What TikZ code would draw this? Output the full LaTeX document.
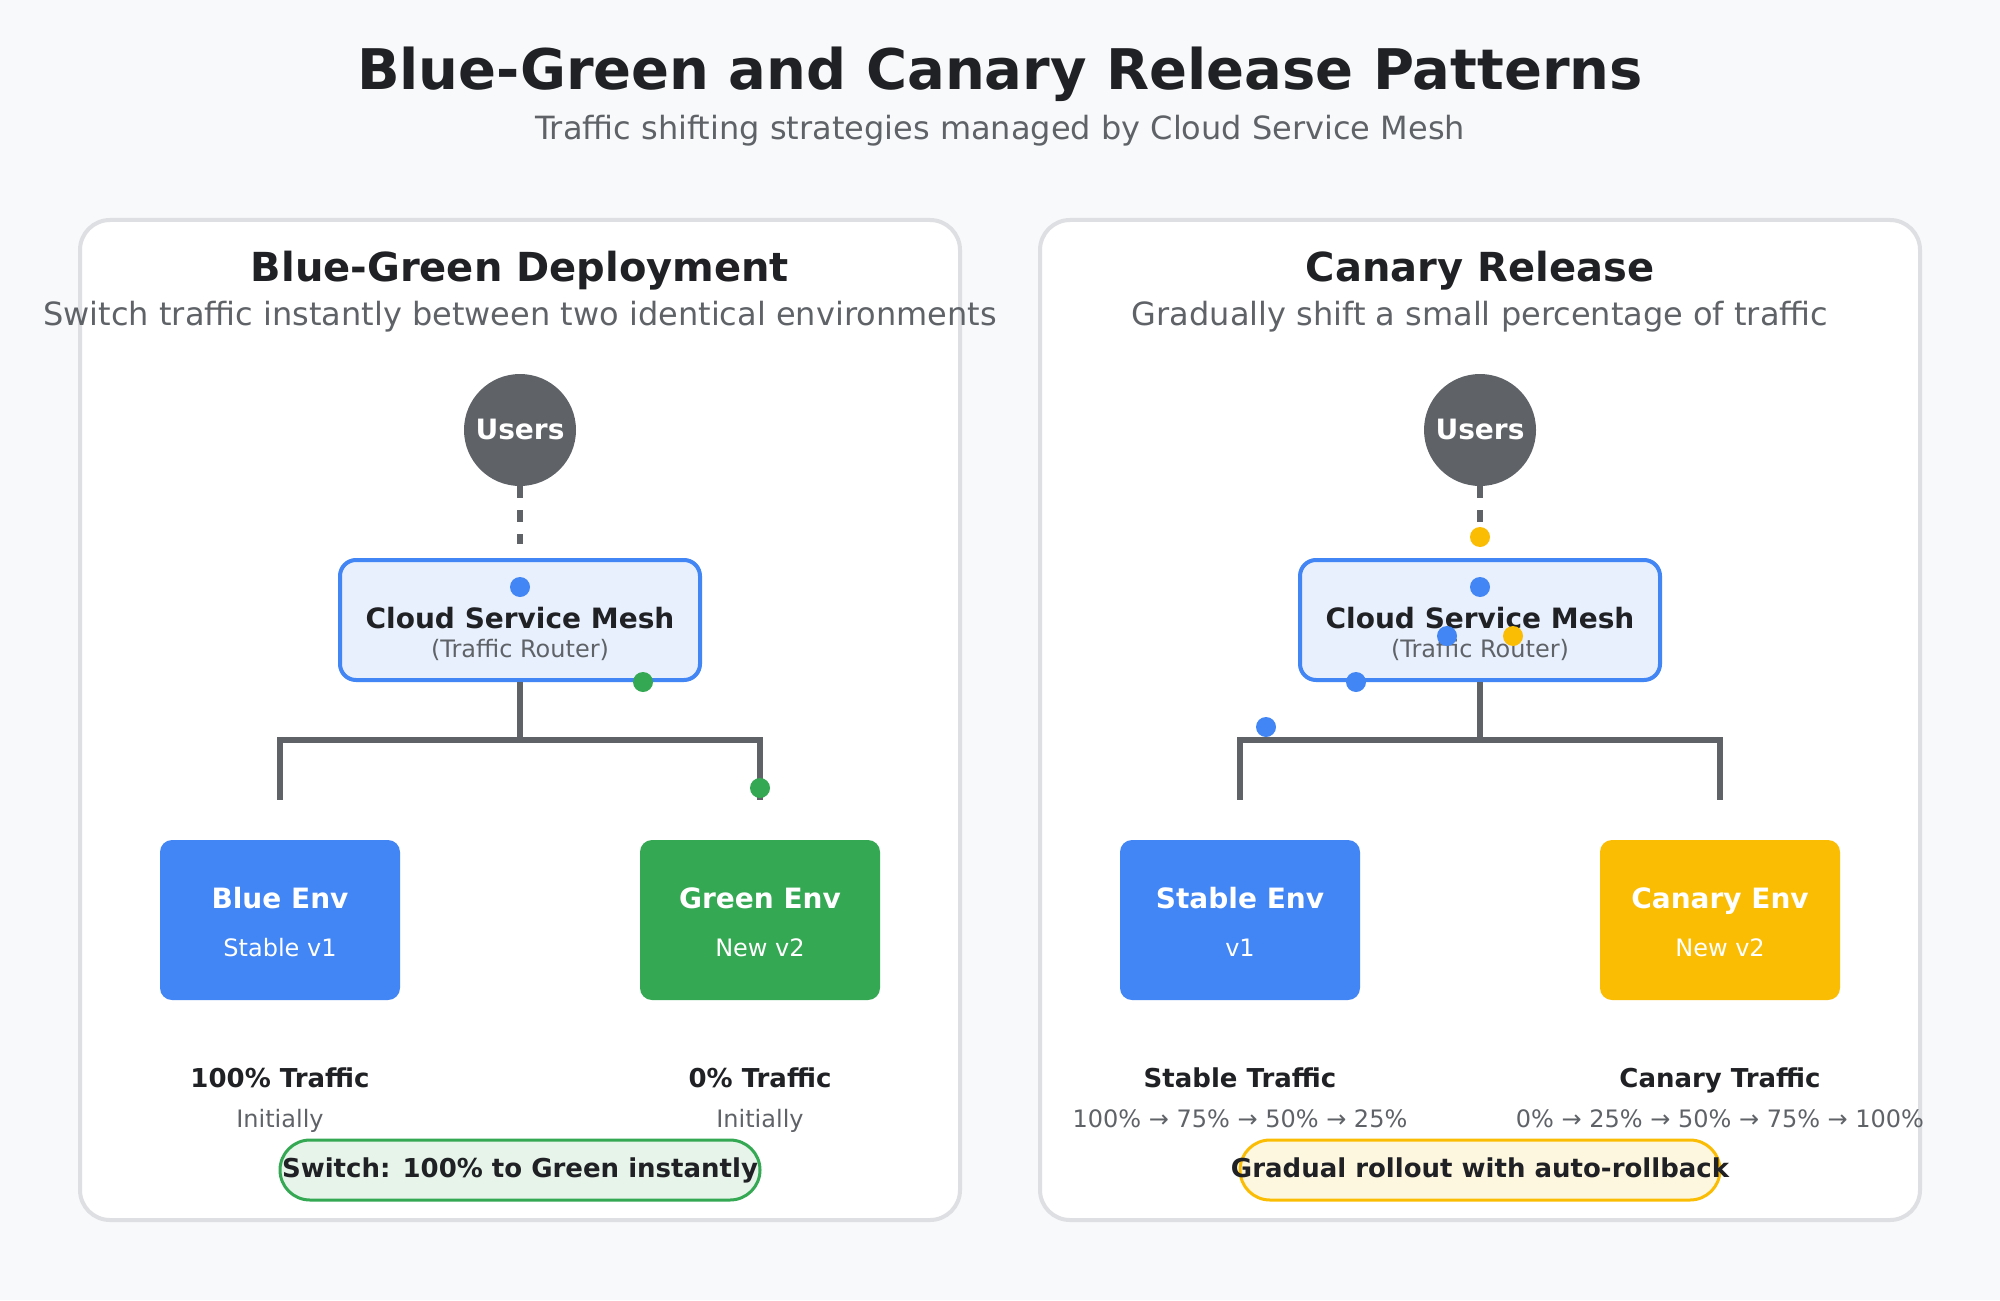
\documentclass[tikz,border=0pt]{standalone}
\usepackage{fontspec}
\setmainfont{DejaVu Sans}
\usepackage{tikz}
\usetikzlibrary{positioning,calc}
\definecolor{GCPblue}{HTML}{4285F4}
\definecolor{GCPgreen}{HTML}{34A853}
\definecolor{GCPyellow}{HTML}{FBBC04}
\definecolor{GCPgrey}{HTML}{5F6368}
\definecolor{GCPdark}{HTML}{202124}
\definecolor{GCPbg}{HTML}{F8F9FA}
\definecolor{GCPborder}{HTML}{DEDFE2}
\definecolor{GCPlightblue}{HTML}{E8F0FE}
\definecolor{GCPlightgreen}{HTML}{E6F4EA}
\definecolor{GCPlightyellow}{HTML}{FEF7E0}
\newcommand{\pxfont}[1]{\fontsize{#1}{#1}\selectfont}

\tikzset{
  heading/.style={anchor=base,inner sep=0pt,text=GCPdark,font=\pxfont{#1}\bfseries},
  note/.style={anchor=base,inner sep=0pt,text=GCPgrey,font=\pxfont{#1}},
  panel/.style={draw=GCPborder,line width=2pt,fill=white,rounded corners=15pt,
    minimum width=440pt,minimum height=500pt,inner sep=0pt},
  users/.style={circle,fill=GCPgrey,minimum size=56pt,inner sep=0pt},
  mesh/.style={draw=GCPblue,line width=2pt,fill=GCPlightblue,rounded corners=8pt,
    minimum width=180pt,minimum height=60pt,inner sep=0pt},
  envbox/.style={fill=#1,rounded corners=6pt,minimum width=120pt,minimum height=80pt,inner sep=0pt},
  pill/.style={line width=1.5pt,rounded corners=15pt,minimum width=240pt,minimum height=30pt,inner sep=0pt},
  link/.style={draw=GCPgrey,line width=3pt},
  dot/.style={circle,fill=#1,minimum size=10pt,inner sep=0pt},
}

\begin{document}
\begin{tikzpicture}[x=1pt,y=-1pt]
  \fill[GCPbg] (0,0) rectangle (1000,650);
  \useasboundingbox (0,0) rectangle (1000,650);

  % heading
  \node[heading=28] (title) at (500,45) {Blue-Green and Canary Release Patterns};
  \node[note=16] (subtitle) at (500,70) {Traffic shifting strategies managed by Cloud Service Mesh};

  % blue-green panel
  \node[panel] (bgpanel) at (260,360) {};
  \node[heading=20] (bgtitle) at (260,140.5) {Blue-Green Deployment};
  \node[note=16] (bgsub) at (260,162.5) {Switch traffic instantly between two identical environments};
  \node[users] (bgusers) at (260,215) {};
  \node[heading=14,text=white] (bguserslbl) at (260,219.5) {Users};
  \node[mesh] (bgmesh) at (260,310) {};
  \node[heading=14] (bgmeshlbl) at (260,314) {Cloud Service Mesh};
  \node[note=12] (bgmeshsub) at (260,328.5) {(Traffic Router)};
  \node[envbox=GCPblue] (bgblue) at (140,460) {};
  \node[envbox=GCPgreen] (bggreen) at (380,460) {};
  \node[heading=14,text=white] (bgbluelbl) at (140,454) {Blue Env};
  \node[note=12,text=white] (bgbluesub) at (140,478) {Stable v1};
  \node[heading=14,text=white] (bggreenlbl) at (380,454) {Green Env};
  \node[note=12,text=white] (bggreensub) at (380,478) {New v2};

  \coordinate (bgsplit) at ($(bgmesh.south)+(0,29)$);
  \coordinate (bgleft) at ($(bgblue.north)+(0,-20)$);
  \coordinate (bgright) at ($(bggreen.north)+(0,-20)$);
  \draw[link,dash pattern=on 6pt off 6pt,shorten >=7pt] (bgusers) -- (bgmesh);
  \draw[link] (bgmesh.south) -- (bgsplit);
  \draw[link] (bgleft) |- (bgsplit) -| (bgright);

  \node[dot=GCPblue] (bgdot1) at (260,293.5) {};
  \node[dot=GCPgreen] (bgdot2) at (321.5,341) {};
  \node[dot=GCPgreen] (bgdot3) at (380,394) {};

  \node[heading=13] (bgbluetraffic) at (140,543.5) {100\% Traffic};
  \node[note=12] (bgbluenote) at (140,563.5) {Initially};
  \node[heading=13] (bggreentraffic) at (380,543.5) {0\% Traffic};
  \node[note=12] (bggreennote) at (380,563.5) {Initially};
  \node[pill,draw=GCPgreen,fill=GCPlightgreen] (bgpill) at (260,585) {};
  \node[heading=13] (bgpilllbl) at (260,588.5) {Switch: 100\% to Green instantly};

  % canary panel
  \node[panel] (crpanel) at (740,360) {};
  \node[heading=20] (crtitle) at (740,140.5) {Canary Release};
  \node[note=16] (crsub) at (740,162.5) {Gradually shift a small percentage of traffic};
  \node[users] (crusers) at (740,215) {};
  \node[heading=14,text=white] (cruserslbl) at (740,219.5) {Users};
  \node[mesh] (crmesh) at (740,310) {};
  \node[heading=14] (crmeshlbl) at (740,314) {Cloud Service Mesh};
  \node[note=12] (crmeshsub) at (740,328.5) {(Traffic Router)};
  \node[envbox=GCPblue] (crstable) at (620,460) {};
  \node[envbox=GCPyellow] (crcanary) at (860,460) {};
  \node[heading=14,text=white] (crstablelbl) at (620,454) {Stable Env};
  \node[note=12,text=white] (crstablesub) at (620,478) {v1};
  \node[heading=14,text=white] (crcanarylbl) at (860,454) {Canary Env};
  \node[note=12,text=white] (crcanarysub) at (860,478) {New v2};

  \coordinate (crsplit) at ($(crmesh.south)+(0,29)$);
  \coordinate (crleft) at ($(crstable.north)+(0,-20)$);
  \coordinate (crright) at ($(crcanary.north)+(0,-20)$);
  \draw[link,dash pattern=on 6pt off 6pt,shorten >=7pt] (crusers) -- (crmesh);
  \draw[link] (crmesh.south) -- (crsplit);
  \draw[link] (crleft) |- (crsplit) -| (crright);

  \node[dot=GCPyellow] (crdot1) at (740,268.5) {};
  \node[dot=GCPblue] (crdot2) at (740,293.5) {};
  \node[dot=GCPblue] (crdot3) at (723.5,318) {};
  \node[dot=GCPyellow] (crdot4) at (756.5,318) {};
  \node[dot=GCPblue] (crdot5) at (678,341) {};
  \node[dot=GCPblue] (crdot6) at (633,363.5) {};

  \node[heading=13] (crstabletraffic) at (620,543.5) {Stable Traffic};
  \node[note=12] (crstablenote) at (620,563.5) {100\% → 75\% → 50\% → 25\%};
  \node[heading=13] (crcanarytraffic) at (860,543.5) {Canary Traffic};
  \node[note=12] (crcanarynote) at (860,563.5) {0\% → 25\% → 50\% → 75\% → 100\%};
  \node[pill,draw=GCPyellow,fill=GCPlightyellow] (crpill) at (740,585) {};
  \node[heading=13] (crpilllbl) at (740,588.5) {Gradual rollout with auto-rollback};
\end{tikzpicture}
\end{document}
